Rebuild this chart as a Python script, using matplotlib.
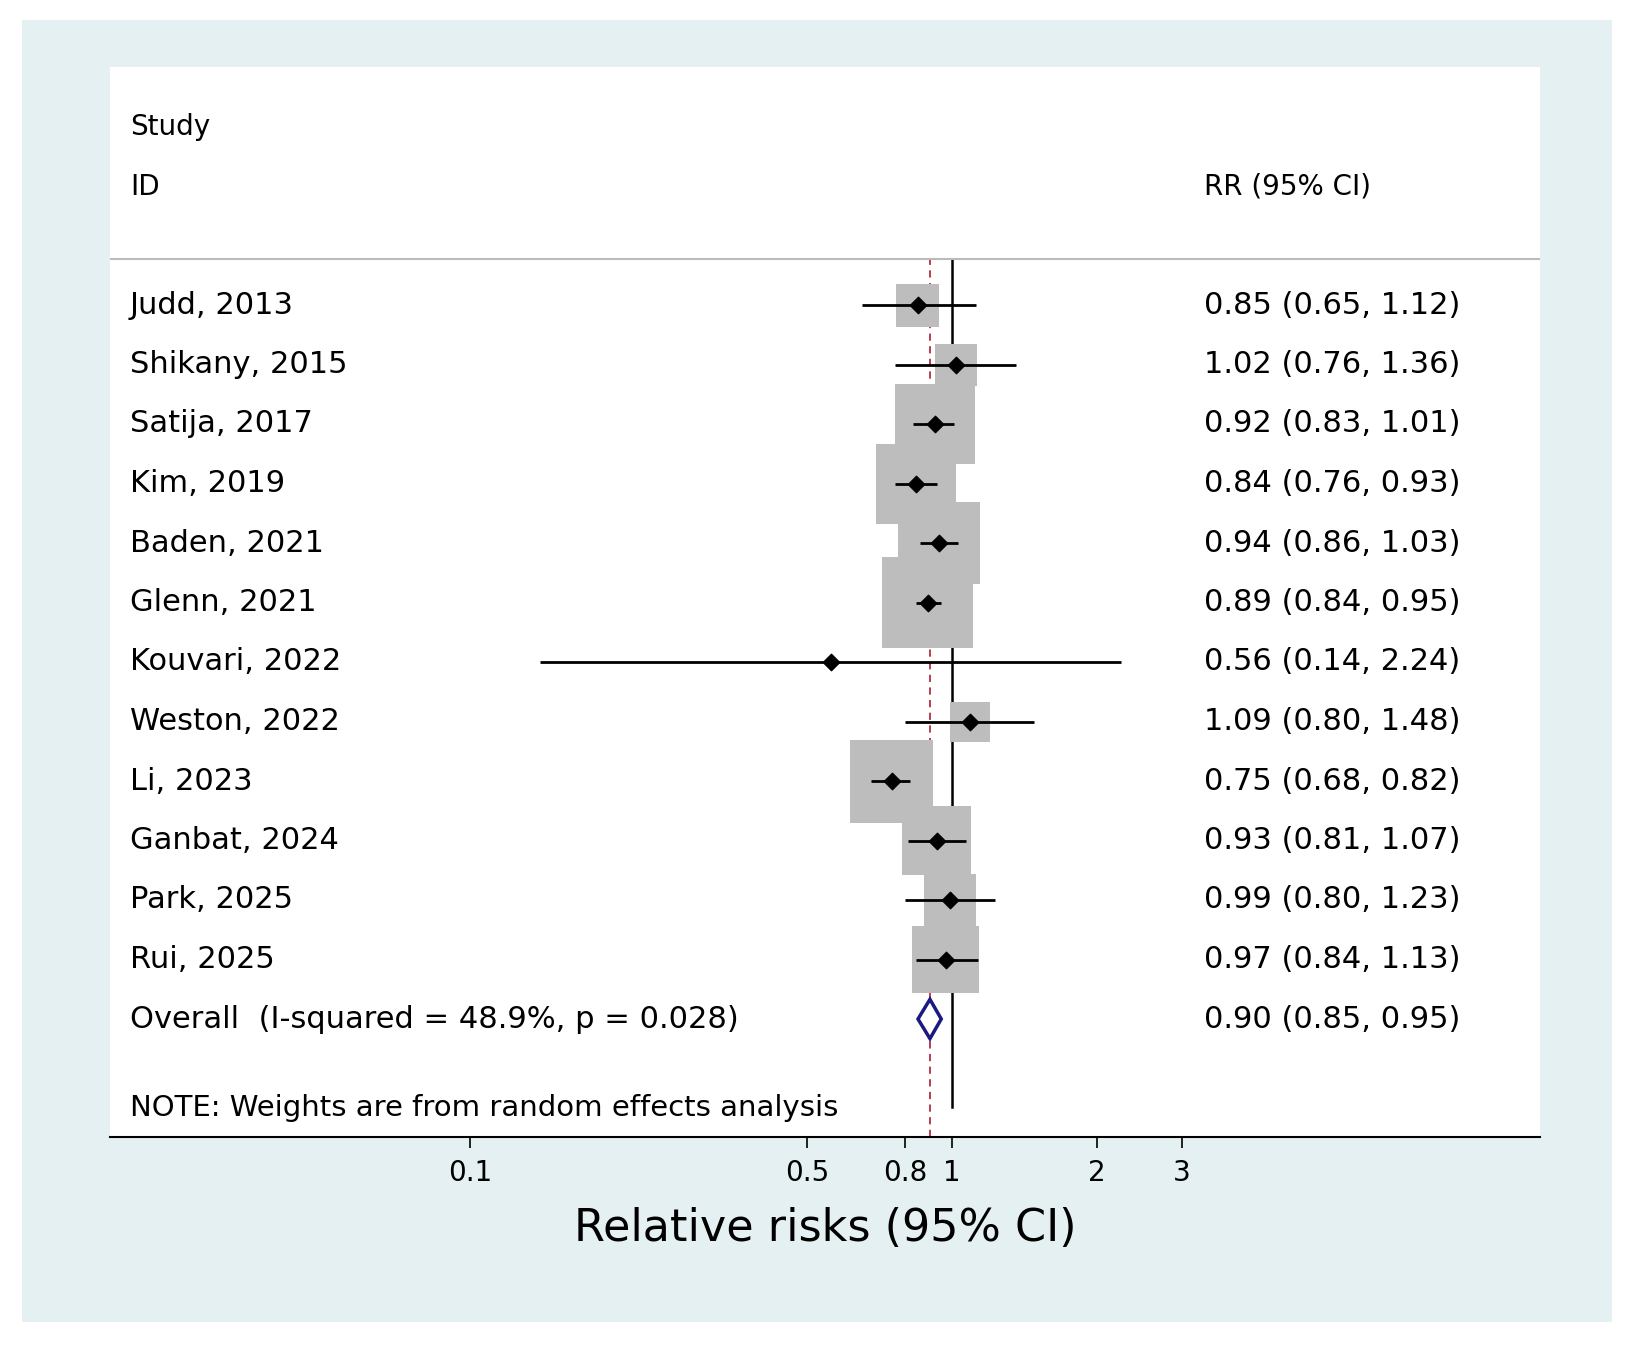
import numpy as np
import matplotlib.pyplot as plt
from matplotlib.patches import Rectangle, Polygon

studies = ["Judd, 2013", "Shikany, 2015", "Satija, 2017", "Kim, 2019", "Baden, 2021",
           "Glenn, 2021", "Kouvari, 2022", "Weston, 2022", "Li, 2023", "Ganbat, 2024",
           "Park, 2025", "Rui, 2025"]
rr = [0.85, 1.02, 0.92, 0.84, 0.94, 0.89, 0.56, 1.09, 0.75, 0.93, 0.99, 0.97]
lo = [0.65, 0.76, 0.83, 0.76, 0.86, 0.84, 0.14, 0.80, 0.68, 0.81, 0.80, 0.84]
hi = [1.12, 1.36, 1.01, 0.93, 1.03, 0.95, 2.24, 1.48, 0.82, 1.07, 1.23, 1.13]
# weight box side in pixels
box = [43, 42, 80, 80, 82, 91, 0, 40, 83, 69, 52, 67]
overall = (0.90, 0.85, 0.95)

W, H = 1632, 1347
fig = plt.figure(figsize=(W / 100, H / 100), dpi=100, facecolor='white')
bg = Rectangle((22 / W, 1 - 1322 / H), 1590 / W, 1302 / H,
               transform=fig.transFigure, facecolor='#e5f0f2',
               edgecolor='none', zorder=-10)
fig.add_artist(bg)

x0, x1, y0, y1 = 110, 1540, 67, 1137
ax = fig.add_axes([x0 / W, 1 - y1 / H, (x1 - x0) / W, (y1 - y0) / H])
ax.set_zorder(1)
ax.set_facecolor('white')
ax.set_xscale('log')
dec = 482.0
ax.set_xlim(10 ** (-1 - (470 - x0) / dec), 10 ** ((x1 - 952) / dec))
step = 59.5
ax.set_ylim((y1 - 305) / step, -(305 - y0) / step)

for s in ['top', 'right', 'left']:
    ax.spines[s].set_visible(False)
ax.spines['bottom'].set_linewidth(1.5)
ax.set_yticks([])
ticks = [0.1, 0.5, 0.8, 1, 2, 3]
ax.set_xticks(ticks)
ax.set_xticklabels(['0.1', '0.5', '0.8', '1', '2', '3'], fontsize=20)
ax.minorticks_off()
ax.tick_params(axis='x', length=8, width=1.2, pad=8)
ax.set_xlabel('Relative risks (95% CI)', fontsize=32, labelpad=14)

ax.axvline(1, color='black', lw=1.8, ymin=0.028, ymax=(y1 - 259) / (y1 - y0), zorder=2)
ax.axvline(overall[0], color='#b03040', lw=1.3, ls=(0, (4, 3)),
           ymax=(y1 - 259) / (y1 - y0), zorder=2)
ax.axhline(-(305 - 259) / step, color='#bbbbbb', lw=1.5)

y = np.arange(len(studies))
sizes = [(b * 0.72) ** 2 for b in box]
ax.scatter(rr, y, s=sizes, marker='s', color='#bdbdbd', zorder=3, linewidths=0)
ax.hlines(y, lo, hi, color='black', lw=2, zorder=4)
ax.scatter(rr, y, s=70, marker='D', color='black', zorder=5)

yo = len(studies)
m, l, h = overall
ax.add_patch(Polygon([(l, yo), (m, yo - 0.33), (h, yo), (m, yo + 0.33)], closed=True,
                     facecolor='white', edgecolor='#1a1a80', lw=2.5, zorder=5))

tx = (130 - x0) / (x1 - x0)
rx = (1204 - x0) / (x1 - x0)
tr = ax.get_yaxis_transform()
fs = 22
ax.text(tx, -(305 - 127) / step, 'Study', transform=tr, fontsize=20, va='center')
ax.text(tx, -(305 - 187) / step, 'ID', transform=tr, fontsize=20, va='center')
ax.text(rx, -(305 - 187) / step, 'RR (95% CI)', transform=tr, fontsize=20, va='center')
for i, s in enumerate(studies):
    ax.text(tx, i, s, transform=tr, fontsize=fs, va='center')
    ax.text(rx, i, f'{rr[i]:.2f} ({lo[i]:.2f}, {hi[i]:.2f})', transform=tr, fontsize=fs, va='center')
ax.text(tx, yo, 'Overall  (I-squared = 48.9%, p = 0.028)', transform=tr, fontsize=fs, va='center')
ax.text(rx, yo, f'{m:.2f} ({l:.2f}, {h:.2f})', transform=tr, fontsize=fs, va='center')
ax.text(tx, (1108 - 305) / step, 'NOTE: Weights are from random effects analysis',
        transform=tr, fontsize=21, va='center')

fig.savefig('out.png', dpi=100)
